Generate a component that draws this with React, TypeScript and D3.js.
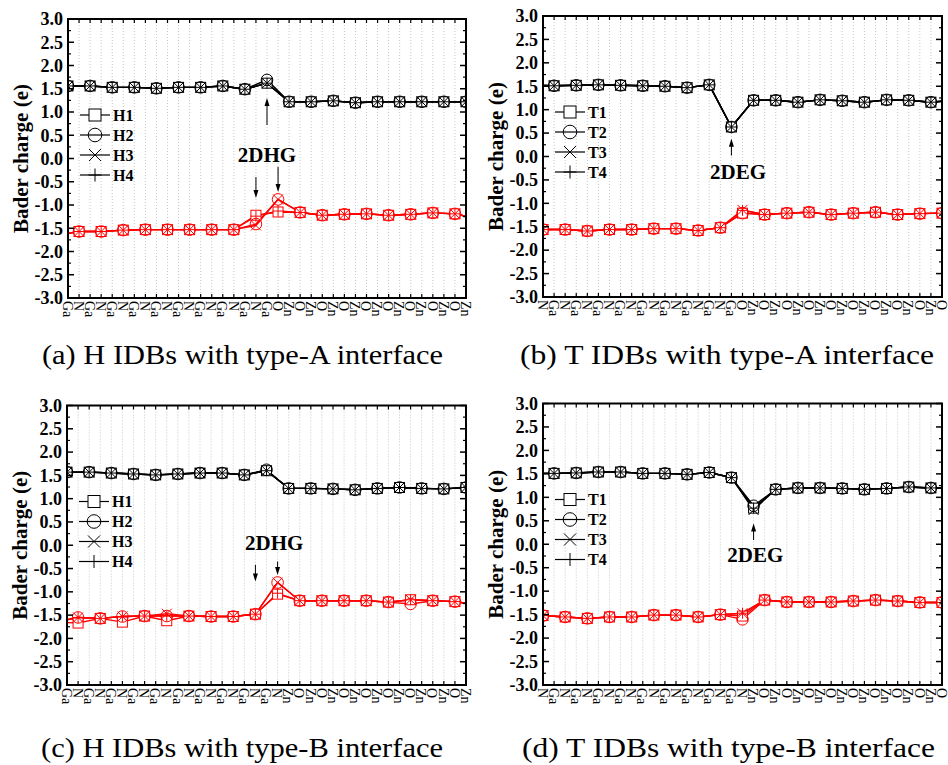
import React from 'react';
import * as d3 from 'd3';

const FONT = 'Liberation Serif';

// atom labels along the x axis (one per atomic layer)
const labelsA = ['Ga','N','Ga','N','Ga','N','Ga','N','Ga','N','Ga','N','Ga','N','Ga','N','Ga','N','Ga','O','Zn','O','Zn','O','Zn','O','Zn','O','Zn','O','Zn','O','Zn','O','Zn','O','Zn'];
const labelsB = ['N','Ga','N','Ga','N','Ga','N','Ga','N','Ga','N','Ga','N','Ga','N','Ga','N','Ga','O','Zn','O','Zn','O','Zn','O','Zn','O','Zn','O','Zn','O','Zn','O','Zn','O','Zn','O'];
const labelsC = ['Ga','N','Ga','N','Ga','N','Ga','N','Ga','N','Ga','N','Ga','N','Ga','N','Ga','N','Ga','N','Zn','O','Zn','O','Zn','O','Zn','O','Zn','O','Zn','O','Zn','O','Zn','O','Zn'];
const labelsD = ['N','Ga','N','Ga','N','Ga','N','Ga','N','Ga','N','Ga','N','Ga','N','Ga','N','Ga','N','Zn','O','Zn','O','Zn','O','Zn','O','Zn','O','Zn','O','Zn','O','Zn','O','Zn','O'];

const namesH = ['H1', 'H2', 'H3', 'H4'];
const namesT = ['T1', 'T2', 'T3', 'T4'];

// (a) cations at layers 0,2,..,36 ; anions at layers -1,1,..,37 (ends clipped)
const aCation = [1.56, 1.56, 1.53, 1.53, 1.51, 1.53, 1.53, 1.56, 1.49, 1.62, 1.22, 1.22, 1.24, 1.20, 1.22, 1.22, 1.22, 1.22, 1.22];
const aAnion = [-1.65, -1.57, -1.57, -1.54, -1.53, -1.53, -1.53, -1.53, -1.53, -1.44, -0.88, -1.16, -1.22, -1.20, -1.19, -1.22, -1.20, -1.17, -1.19, -1.29];
const aDev: [string, number, number][] = [['H2', 18, 1.69], ['H1', 17, -1.22], ['H4', 17, -1.24], ['H2', 17, -1.41], ['H1', 19, -1.15], ['H4', 19, -1.13]];

// (b) cations at layers -1,1,..,37 ; anions at 0,2,..,36
const bCation = [1.52, 1.51, 1.52, 1.53, 1.52, 1.51, 1.50, 1.47, 1.53, 0.63, 1.20, 1.20, 1.16, 1.21, 1.19, 1.16, 1.21, 1.20, 1.16, 1.20];
const bAnion = [-1.56, -1.56, -1.59, -1.56, -1.56, -1.54, -1.54, -1.58, -1.52, -1.21, -1.24, -1.21, -1.19, -1.24, -1.21, -1.19, -1.24, -1.22, -1.21];
const bDev: [string, number, number][] = [['T3', 18, -1.14], ['T4', 18, -1.15]];

// (c) cations at layers 0,2,..,36 ; anions at -1,1,..,37
const cCation = [1.57, 1.57, 1.55, 1.53, 1.51, 1.53, 1.55, 1.55, 1.51, 1.60, 1.22, 1.22, 1.21, 1.19, 1.22, 1.24, 1.22, 1.21, 1.24];
const cAnion = [-1.65, -1.55, -1.57, -1.53, -1.52, -1.52, -1.52, -1.53, -1.53, -1.48, -0.80, -1.19, -1.19, -1.19, -1.19, -1.22, -1.17, -1.19, -1.21, -1.28];
const cDev: [string, number, number][] = [['H2', 18, 1.62], ['H1', 19, -1.05], ['H4', 19, -1.03], ['H1', 1, -1.67], ['H1', 5, -1.65], ['H1', 9, -1.62], ['H3', 9, -1.47], ['H2', 31, -1.26]];

// (d) cations at layers -1,1,..,37 ; anions at 0,2,..,36
const dCation = [1.51, 1.51, 1.52, 1.54, 1.54, 1.51, 1.51, 1.49, 1.53, 1.42, 0.77, 1.17, 1.20, 1.20, 1.19, 1.17, 1.19, 1.22, 1.20, 1.20];
const dAnion = [-1.52, -1.55, -1.58, -1.55, -1.55, -1.51, -1.51, -1.55, -1.50, -1.53, -1.19, -1.23, -1.23, -1.23, -1.21, -1.19, -1.21, -1.24, -1.24];
const dDev: [string, number, number][] = [['T2', 19, 0.82], ['T3', 19, 0.73], ['T2', 18, -1.60], ['T3', 18, -1.47], ['T4', 18, -1.47]];

type Arrow = { pos: number; from: number; to: number };
type Note = { pos: number; value: number; text: string };

const Marker = ({ k, cx, cy, s, color, fill }: { k: number; cx: number; cy: number; s: number; color: string; fill: string }) => {
  if (k === 0) return <rect x={cx - s} y={cy - s} width={2 * s} height={2 * s} fill={fill} stroke={color} strokeWidth={1} />;
  if (k === 1) return <circle cx={cx} cy={cy} r={s + 0.8} fill="none" stroke={color} strokeWidth={1} />;
  if (k === 2)
    return <path d={`M${cx - s},${cy - s}L${cx + s},${cy + s}M${cx - s},${cy + s}L${cx + s},${cy - s}`} stroke={color} strokeWidth={1} fill="none" />;
  return <path d={`M${cx - s - 0.5},${cy}L${cx + s + 0.5},${cy}M${cx},${cy - s - 0.5}L${cx},${cy + s + 0.5}`} stroke={color} strokeWidth={1} fill="none" />;
};

interface PanelProps {
  id: string;
  rect: { left: number; top: number; right: number; bottom: number };
  labels: string[];
  names: string[];
  cation: number[];
  cationStart: number;
  anion: number[];
  anionStart: number;
  dev: [string, number, number][];
  arrows: Arrow[];
  note: Note;
  caption: string;
  capX: number;
  capW: number;
  capY: number;
}

const Panel = (p: PanelProps) => {
  const { rect } = p;
  const x = d3.scaleLinear().domain([0, p.labels.length - 1]).range([rect.left, rect.right]);
  const y = d3.scaleLinear().domain([-3, 3]).range([rect.bottom, rect.top]);
  const line = d3.line<{ pos: number; value: number }>().x(d => x(d.pos)).y(d => y(d.value));

  const build = (name: string, vals: number[], start: number) =>
    vals.map((v, i) => {
      const pos = start + 2 * i;
      const dv = p.dev.find(d => d[0] === name && d[1] === pos);
      return { pos, value: dv ? dv[2] : v };
    });

  const series = p.names.map(name => ({
    name,
    cat: build(name, p.cation, p.cationStart),
    an: build(name, p.anion, p.anionStart),
  }));

  const majors = d3.range(-3, 3.001, 0.5);
  const minors = d3.range(-2.75, 3, 0.5);
  const clip = `clip-${p.id}`;
  const legendTop = rect.top + 96;

  return (
    <g>
      <defs>
        <clipPath id={clip}>
          <rect x={rect.left} y={rect.top} width={rect.right - rect.left} height={rect.bottom - rect.top} />
        </clipPath>
      </defs>
      {/* dotted vertical grid at every layer */}
      {p.labels.map((_, i) => (
        <line key={`g${i}`} x1={x(i)} x2={x(i)} y1={rect.top} y2={rect.bottom} stroke="#b8b8b8" strokeWidth={0.8} strokeDasharray="1,2" />
      ))}
      <g clipPath={`url(#${clip})`}>
        {series.map(s => (
          <g key={`l${s.name}`}>
            <path d={line(s.cat) || ''} fill="none" stroke="#000" strokeWidth={1.4} />
            <path d={line(s.an) || ''} fill="none" stroke="#ff0000" strokeWidth={1.4} />
          </g>
        ))}
        {series.map((s, k) => (
          <g key={`m${s.name}`}>
            {s.cat.map(d => (
              <Marker key={`c${d.pos}`} k={k} cx={x(d.pos)} cy={y(d.value)} s={5} color="#000" fill="#fff" />
            ))}
            {s.an.map(d => (
              <Marker key={`a${d.pos}`} k={k} cx={x(d.pos)} cy={y(d.value)} s={5} color="#ff0000" fill="#fff" />
            ))}
          </g>
        ))}
      </g>
      {/* frame */}
      <rect x={rect.left} y={rect.top} width={rect.right - rect.left} height={rect.bottom - rect.top} fill="none" stroke="#000" strokeWidth={2} />
      {/* x ticks top and bottom */}
      {p.labels.map((_, i) => (
        <g key={`t${i}`}>
          <line x1={x(i)} x2={x(i)} y1={rect.bottom} y2={rect.bottom - 4} stroke="#000" strokeWidth={1.2} />
          <line x1={x(i)} x2={x(i)} y1={rect.top} y2={rect.top + 4} stroke="#000" strokeWidth={1.2} />
        </g>
      ))}
      {/* y ticks left and right */}
      {majors.map(v => (
        <g key={`y${v}`}>
          <line x1={rect.left} x2={rect.left + 6} y1={y(v)} y2={y(v)} stroke="#000" strokeWidth={1.5} />
          <line x1={rect.right} x2={rect.right - 6} y1={y(v)} y2={y(v)} stroke="#000" strokeWidth={1.5} />
          <text x={rect.left - 5} y={y(v)} dy="0.35em" textAnchor="end" fontFamily={FONT} fontWeight="bold" fontSize={18}>
            {v.toFixed(1)}
          </text>
        </g>
      ))}
      {minors.map(v => (
        <g key={`n${v}`}>
          <line x1={rect.left} x2={rect.left + 3} y1={y(v)} y2={y(v)} stroke="#000" strokeWidth={1.2} />
          <line x1={rect.right} x2={rect.right - 3} y1={y(v)} y2={y(v)} stroke="#000" strokeWidth={1.2} />
        </g>
      ))}
      {/* x tick labels, rotated */}
      {p.labels.map((lab, i) => (
        <text
          key={`x${i}`}
          transform={`translate(${x(i)},${rect.bottom + 3}) rotate(90)`}
          dy="0.38em"
          fontFamily={FONT}
          fontSize={14}
        >
          {lab}
        </text>
      ))}
      {/* y axis title */}
      <text
        transform={`translate(${rect.left - 47},${(rect.top + rect.bottom) / 2}) rotate(-90)`}
        textAnchor="middle"
        dy="0.35em"
        fontFamily={FONT}
        fontWeight="bold"
        fontSize={21}
      >
        Bader charge (e)
      </text>
      {/* legend */}
      {p.names.map((name, k) => {
        const ly = legendTop + 20 * k;
        return (
          <g key={`lg${name}`}>
            <line x1={rect.left + 12} x2={rect.left + 42} y1={ly} y2={ly} stroke="#000" strokeWidth={1.2} />
            <Marker k={k} cx={rect.left + 27} cy={ly} s={6} color="#000" fill="#fff" />
            <text x={rect.left + 45} y={ly} dy="0.35em" fontFamily={FONT} fontWeight="bold" fontSize={16}>
              {name}
            </text>
          </g>
        );
      })}
      {/* arrows and annotation */}
      {p.arrows.map((a, i) => {
        const ax = x(a.pos);
        const y0 = y(a.from);
        const y1 = y(a.to);
        const dir = y1 < y0 ? 1 : -1;
        return (
          <g key={`ar${i}`}>
            <line x1={ax} x2={ax} y1={y0} y2={y1 + dir * 6} stroke="#000" strokeWidth={1} />
            <path d={`M${ax},${y1}L${ax - 2.5},${y1 + dir * 8}L${ax + 2.5},${y1 + dir * 8}Z`} fill="#000" />
          </g>
        );
      })}
      <text x={x(p.note.pos)} y={y(p.note.value)} textAnchor="middle" fontFamily={FONT} fontWeight="bold" fontSize={21}>
        {p.note.text}
      </text>
      {/* caption */}
      <text x={p.capX} y={p.capY} fontFamily={FONT} fontSize={28} textLength={p.capW} lengthAdjust="spacingAndGlyphs">
        {p.caption}
      </text>
    </g>
  );
};

export default function App() {
  return (
    <svg width={948} height={765} style={{ position: 'absolute', left: 0, top: 0, background: '#fff' }}>
      <rect x={0} y={0} width={948} height={765} fill="#fff" />
      <Panel
        id="a"
        rect={{ left: 68, top: 19, right: 466, bottom: 298 }}
        labels={labelsA}
        names={namesH}
        cation={aCation}
        cationStart={0}
        anion={aAnion}
        anionStart={-1}
        dev={aDev}
        arrows={[{ pos: 18, from: 0.72, to: 1.3 }, { pos: 17, from: -0.4, to: -0.85 }, { pos: 19, from: -0.18, to: -0.72 }]}
        note={{ pos: 18, value: -0.07, text: '2DHG' }}
        caption="(a) H IDBs with type-A interface"
        capX={42}
        capW={401}
        capY={364}
      />
      <Panel
        id="b"
        rect={{ left: 543, top: 16, right: 942, bottom: 297 }}
        labels={labelsB}
        names={namesT}
        cation={bCation}
        cationStart={-1}
        anion={bAnion}
        anionStart={0}
        dev={bDev}
        arrows={[{ pos: 17, from: 0.02, to: 0.38 }]}
        note={{ pos: 17.6, value: -0.47, text: '2DEG' }}
        caption="(b) T IDBs with type-A interface"
        capX={520}
        capW={414}
        capY={364}
      />
      <Panel
        id="c"
        rect={{ left: 67, top: 405.5, right: 466, bottom: 685 }}
        labels={labelsC}
        names={namesH}
        cation={cCation}
        cationStart={0}
        anion={cAnion}
        anionStart={-1}
        dev={cDev}
        arrows={[{ pos: 17, from: -0.42, to: -0.78 }, { pos: 19, from: -0.35, to: -0.64 }]}
        note={{ pos: 18.7, value: -0.1, text: '2DHG' }}
        caption="(c) H IDBs with type-B interface"
        capX={41}
        capW={402}
        capY={757}
      />
      <Panel
        id="d"
        rect={{ left: 543, top: 403.5, right: 942, bottom: 685 }}
        labels={labelsD}
        names={namesT}
        cation={dCation}
        cationStart={-1}
        anion={dAnion}
        anionStart={0}
        dev={dDev}
        arrows={[{ pos: 19, from: 0.09, to: 0.44 }]}
        note={{ pos: 19.15, value: -0.37, text: '2DEG' }}
        caption="(d) T IDBs with type-B interface"
        capX={522}
        capW={413}
        capY={757}
      />
    </svg>
  );
}
